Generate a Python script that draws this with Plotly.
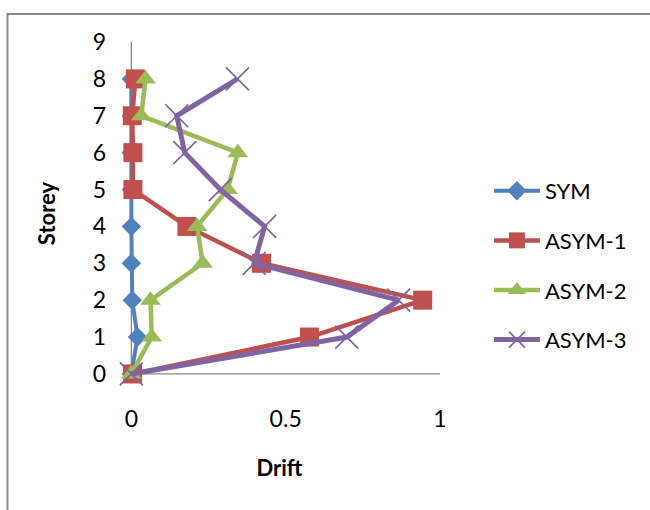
import plotly.graph_objects as go

# Storey drift profiles
storey = [0, 1, 2, 3, 4, 5, 6, 7, 8]
sym = [0, 0.02, 0.003, 0, 0, 0, 0, 0, 0]
asym_1 = [0.004, 0.577, 0.944, 0.422, 0.18, 0.005, 0.005, 0.003, 0.013]
asym_2 = [0, 0.066, 0.062, 0.231, 0.213, 0.312, 0.345, 0.032, 0.046]
asym_3 = [0, 0.698, 0.866, 0.398, 0.432, 0.288, 0.173, 0.147, 0.344]

x_ticks = [0, 0.5, 1]
x_tick_text = ["0", "0.5", "1"]
y_ticks = list(range(10))

FONT = "Lato, 'Open Sans', sans-serif"

series = [
    ("SYM", sym, "#4F81BD", 4.0, dict(symbol="diamond", size=15)),
    ("ASYM-1", asym_1, "#C0504D", 4.5, dict(symbol="square", size=19)),
    ("ASYM-2", asym_2, "#9BBB59", 4.5, dict(symbol="triangle-up", size=18)),
    ("ASYM-3", asym_3, "#8064A2", 5.0,
     dict(symbol="x-thin", size=23, line=dict(width=1.7, color="#8064A2"))),
]

fig = go.Figure()
for name, vals, color, lw, marker in series:
    fig.add_trace(go.Scatter(
        x=vals, y=storey, name=name, mode="lines+markers",
        legendgroup=name,
        line=dict(color=color, width=lw),
        marker=dict(color=color, **marker),
        cliponaxis=False,
    ))

# Figure geometry (pixels)
W, H = 650, 510
x_lo, x_hi = -0.04, 1.0
y_lo, y_hi = -0.3, 9.0
px_x = 309.0          # pixels per unit of drift
px_y = 332.0 / 9.0    # pixels per storey
left = 131 - (0 - x_lo) * px_x
right = W - (131 + (x_hi - 0) * px_x)
top = 42
bottom = H - (374 + (0 - y_lo) * px_y)

plot_w = W - left - right
plot_h = H - top - bottom

def paper_x(px):
    return (px - left) / plot_w

def paper_y(py):
    return (H - bottom - py) / plot_h

fig.update_layout(
    width=W, height=H,
    margin=dict(l=left, r=right, t=top, b=bottom, pad=0),
    paper_bgcolor="white", plot_bgcolor="white",
    font=dict(family=FONT, size=23, color="black"),
    showlegend=True,
    legend=dict(
        x=paper_x(489), y=paper_y(170), xanchor="left", yanchor="top",
        font=dict(family=FONT, size=22, color="black"),
        tracegroupgap=18, bgcolor="rgba(0,0,0,0)",
        itemwidth=46,
    ),
    xaxis=dict(
        range=[x_lo, x_hi], tickvals=x_ticks, ticktext=x_tick_text,
        showgrid=False, zeroline=False, showline=False, ticks="",
        ticklabelstandoff=18, tickfont=dict(size=23),
        title=dict(text="<b>Drift</b>", standoff=29,
                   font=dict(family=FONT, size=22)),
    ),
    yaxis=dict(
        range=[y_lo, y_hi], tickvals=y_ticks,
        showgrid=False, zeroline=False, showline=False, ticks="",
        ticklabelstandoff=12, tickfont=dict(size=23),
        title=dict(text="<b>Storey</b>", standoff=30,
                   font=dict(family=FONT, size=22)),
    ),
    shapes=[
        # axis lines
        dict(type="line", xref="x", yref="y", x0=0, x1=1, y0=0, y1=0,
             line=dict(color="#868686", width=1.3), layer="below"),
        dict(type="line", xref="x", yref="y", x0=0, x1=0, y0=0, y1=9,
             line=dict(color="#868686", width=1.3), layer="below"),
        # chart frame
        dict(type="rect", xref="paper", yref="paper",
             x0=paper_x(7), x1=paper_x(670), y0=paper_y(530), y1=paper_y(14),
             line=dict(color="#898989", width=2), layer="below"),
    ],
)

fig.write_html("out.html")
